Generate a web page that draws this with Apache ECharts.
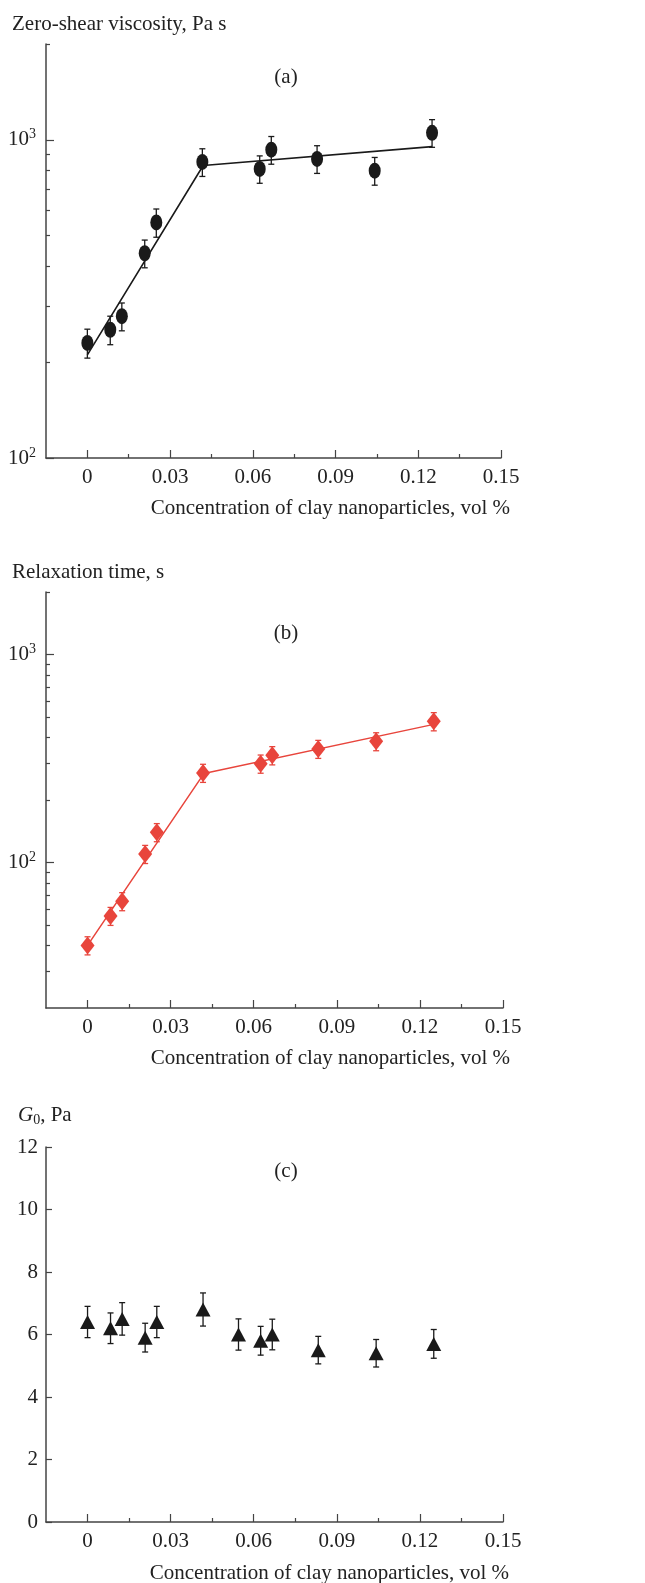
<!DOCTYPE html>
<html>
<head>
<meta charset="utf-8">
<script src="https://cdn.jsdelivr.net/npm/echarts@6/dist/echarts.min.js"></script>
<style>
  html, body { margin: 0; padding: 0; background: #fff; }
  #main { width: 645px; height: 1583px; }
</style>
</head>
<body>
<div id="main"></div>
<script>
// concentration of clay nanoparticles, vol %
const conc = [0, 0.0083, 0.0125, 0.0208, 0.025, 0.0417, 0.0625, 0.0667, 0.0833, 0.1042, 0.125]
const concG = [0, 0.0083, 0.0125, 0.0208, 0.025, 0.0417, 0.0545, 0.0625, 0.0667, 0.0833, 0.1042, 0.125]

// (a) zero-shear viscosity, Pa s
const viscosity = [230, 253, 279, 440, 550, 852, 810, 931, 871, 800, 1052]
const viscosityErr = [24, 26, 28, 44, 56, 85, 80, 93, 87, 80, 105]
const viscFitX = [0, 0.042, 0.125]
const viscFitY = [211, 830, 952]

// (b) relaxation time, s
const relaxTime = [40, 55.4, 65.2, 110, 140, 270, 299, 328, 352, 383, 478]
const relaxErr = [4, 5.5, 6.5, 11, 14, 27, 30, 33, 35, 38, 48]
const relaxFitX = [0, 0.042, 0.125]
const relaxFitY = [40, 268, 462]

// (c) G0, Pa
const g0 = [6.4, 6.2, 6.5, 5.9, 6.4, 6.8, 6.0, 5.8, 6.0, 5.5, 5.4, 5.7]
const g0Err = [0.5, 0.49, 0.52, 0.46, 0.5, 0.53, 0.5, 0.46, 0.49, 0.44, 0.44, 0.46]

// ticks
const xTicks = [0, 0.03, 0.06, 0.09, 0.12, 0.15]
const xMinorTicks = [0.015, 0.045, 0.075, 0.105, 0.135]
const logLabels = [100, 1000]
const logMinorA = [200, 300, 400, 500, 600, 700, 800, 900, 2000]
const logMinorB = [30, 40, 50, 60, 70, 80, 90, 200, 300, 400, 500, 600, 700, 800, 900, 2000]

const FONT = 'Liberation Serif'
const INK = '#222'
const AXIS = '#444'
const RED = '#e8453c'

const grids = [
  { left: 46, top: 44, width: 455, height: 414 },
  { left: 46, top: 592, width: 457, height: 416 },
  { left: 46, top: 1147, width: 457, height: 375 }
]

function xAxes (gridIndex) {
  return [{
    type: 'value', gridIndex: gridIndex, min: -0.015, max: 0.15, position: 'bottom',
    axisLine: { onZero: false, lineStyle: { color: AXIS, width: 1.5 } },
    axisTick: { inside: true, length: 8, customValues: xTicks, lineStyle: { color: AXIS, width: 1.2 } },
    axisLabel: {
      customValues: xTicks, margin: 9, color: INK, fontFamily: FONT, fontSize: 21,
      formatter: v => v === 0 ? '0' : v.toFixed(2)
    },
    splitLine: { show: false }
  }, {
    type: 'value', gridIndex: gridIndex, min: -0.015, max: 0.15, position: 'bottom',
    axisLine: { show: false, onZero: false },
    axisTick: { inside: true, length: 4, customValues: xMinorTicks, lineStyle: { color: AXIS, width: 1.2 } },
    axisLabel: { show: false },
    splitLine: { show: false }
  }]
}

function logAxes (gridIndex, min, minor) {
  return [{
    type: 'log', logBase: 10, gridIndex: gridIndex, min: min, max: 2000, position: 'left',
    axisLine: { show: true, onZero: false, lineStyle: { color: AXIS, width: 1.5 } },
    axisTick: { show: true, inside: true, length: 8, customValues: logLabels, lineStyle: { color: AXIS, width: 1.2 } },
    axisLabel: {
      customValues: logLabels, margin: 10, color: INK,
      formatter: v => '{b|10}{s|' + Math.round(Math.log10(v)) + '}',
      rich: {
        b: { fontFamily: FONT, fontSize: 21, lineHeight: 24, color: INK },
        s: { fontFamily: FONT, fontSize: 14, lineHeight: 14, verticalAlign: 'top', color: INK }
      }
    },
    splitLine: { show: false }
  }, {
    type: 'log', logBase: 10, gridIndex: gridIndex, min: min, max: 2000, position: 'left',
    axisLine: { show: false, onZero: false },
    axisTick: { show: true, inside: true, length: 4, customValues: minor, lineStyle: { color: AXIS, width: 1.2 } },
    axisLabel: { show: false },
    splitLine: { show: false }
  }]
}

function errorBars (xs, ys, errs, xIdx, yIdx, color) {
  return {
    type: 'custom',
    xAxisIndex: xIdx, yAxisIndex: yIdx,
    data: xs.map((x, i) => [x, ys[i], ys[i] - errs[i], ys[i] + errs[i]]),
    renderItem: (params, api) => {
      const top = api.coord([api.value(0), api.value(3)])
      const bot = api.coord([api.value(0), api.value(2)])
      const s = { stroke: color, lineWidth: 1.3 }
      return {
        type: 'group',
        children: [
          { type: 'line', shape: { x1: top[0], y1: top[1], x2: bot[0], y2: bot[1] }, style: s },
          { type: 'line', shape: { x1: top[0] - 3, y1: top[1], x2: top[0] + 3, y2: top[1] }, style: s },
          { type: 'line', shape: { x1: bot[0] - 3, y1: bot[1], x2: bot[0] + 3, y2: bot[1] }, style: s }
        ]
      }
    },
    z: 3
  }
}

const ellipse = 'path://M0,50 A50,50 0 1,1 100,50 A50,50 0 1,1 0,50 Z'

function text (str, x, y, align) {
  return {
    type: 'text', x: x, y: y,
    style: { text: str, font: '21px "' + FONT + '"', fill: INK, align: align || 'left', verticalAlign: 'middle' }
  }
}

const xTitle = 'Concentration of clay nanoparticles, vol %'

const option = {
  animation: false,
  backgroundColor: '#fff',
  grid: grids,
  xAxis: [].concat(xAxes(0), xAxes(1), xAxes(2)),
  yAxis: [].concat(logAxes(0, 100, logMinorA), logAxes(1, 20, logMinorB), [{
    type: 'value', gridIndex: 2, min: 0, max: 12, interval: 2, position: 'left',
    axisLine: { show: true, onZero: false, lineStyle: { color: AXIS, width: 1.5 } },
    axisTick: { show: true, inside: true, length: 6, lineStyle: { color: AXIS, width: 1.2 } },
    axisLabel: { margin: 8, color: INK, fontFamily: FONT, fontSize: 21 },
    splitLine: { show: false }
  }]),
  series: [
    {
      type: 'line', xAxisIndex: 0, yAxisIndex: 0, symbol: 'none',
      data: viscFitX.map((x, i) => [x, viscFitY[i]]),
      lineStyle: { color: '#1a1a1a', width: 1.6 }, z: 2
    },
    errorBars(conc, viscosity, viscosityErr, 0, 0, '#1a1a1a'),
    {
      type: 'scatter', xAxisIndex: 0, yAxisIndex: 0, symbol: ellipse, symbolSize: [12, 16],
      data: conc.map((x, i) => [x, viscosity[i]]),
      itemStyle: { color: '#1a1a1a', opacity: 1 }, z: 4
    },
    {
      type: 'line', xAxisIndex: 2, yAxisIndex: 2, symbol: 'none',
      data: relaxFitX.map((x, i) => [x, relaxFitY[i]]),
      lineStyle: { color: RED, width: 1.5 }, z: 2
    },
    errorBars(conc, relaxTime, relaxErr, 2, 2, RED),
    {
      type: 'scatter', xAxisIndex: 2, yAxisIndex: 2, symbol: 'diamond', symbolSize: [14, 18],
      data: conc.map((x, i) => [x, relaxTime[i]]),
      itemStyle: { color: RED, opacity: 1 }, z: 4
    },
    errorBars(concG, g0, g0Err, 4, 4, '#1a1a1a'),
    {
      type: 'scatter', xAxisIndex: 4, yAxisIndex: 4, symbol: 'triangle', symbolSize: [15, 14],
      data: concG.map((x, i) => [x, g0[i]]),
      itemStyle: { color: '#1a1a1a', opacity: 1 }, z: 4
    }
  ],
  graphic: [
    text('Zero-shear viscosity, Pa s', 12, 24),
    text('(a)', 286, 77, 'center'),
    text(xTitle, 510, 508, 'right'),
    text('Relaxation time, s', 12, 572),
    text('(b)', 286, 633, 'center'),
    text(xTitle, 510, 1058, 'right'),
    {
      type: 'text', x: 18, y: 1115,
      style: {
        text: '{g|G}{z|0}{n|, Pa}', verticalAlign: 'middle', fill: INK,
        rich: {
          g: { fontFamily: FONT, fontSize: 21, fontStyle: 'italic', lineHeight: 24 },
          z: { fontFamily: FONT, fontSize: 14, lineHeight: 14, verticalAlign: 'bottom' },
          n: { fontFamily: FONT, fontSize: 21, lineHeight: 24 }
        }
      }
    },
    text('(c)', 286, 1171, 'center'),
    text(xTitle, 509, 1573, 'right')
  ]
}

const chart = echarts.init(document.getElementById('main'))
chart.setOption(option)
</script>
</body>
</html>
